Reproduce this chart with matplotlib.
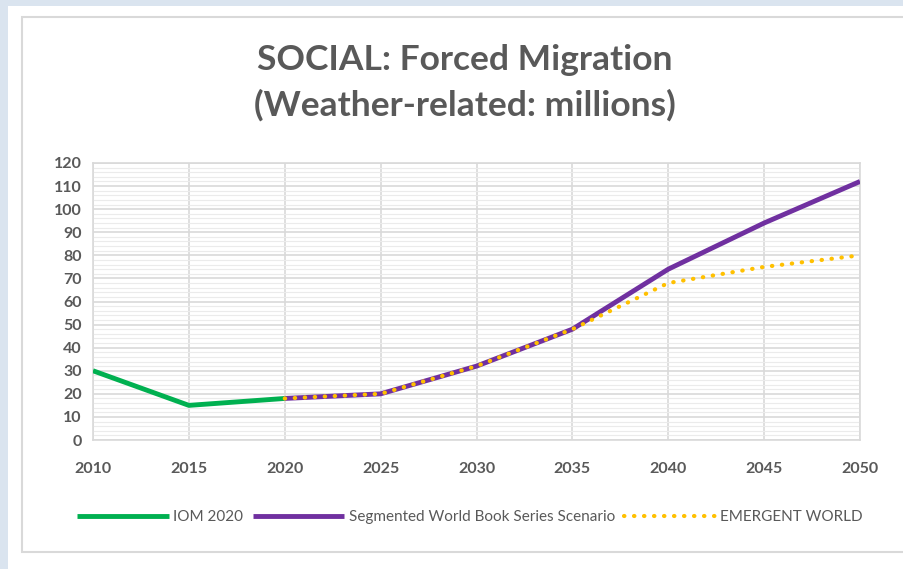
import matplotlib
matplotlib.use("Agg")
import matplotlib.pyplot as plt
from matplotlib.patches import Rectangle
from matplotlib.ticker import MultipleLocator

years = [2010, 2015, 2020, 2025, 2030, 2035, 2040, 2045, 2050]
iom_years = [2010, 2015, 2020]
iom_vals = [30, 15, 18]
scen_years = [2020, 2025, 2030, 2035, 2040, 2045, 2050]
segmented = [18, 20, 32, 48, 74, 94, 112]
emergent = [18, 20, 32, 48, 68, 75, 80]

plt.rcParams["font.family"] = ["Lato", "DejaVu Sans"]
grey = "#595959"

fig = plt.figure(figsize=(9.04, 5.69), dpi=100)
fig.patch.set_facecolor("white")

# light blue window edges and the chart border
fig.patches.append(Rectangle((0, 0.99), 1, 0.01, transform=fig.transFigure,
                             facecolor="#dae4ef", edgecolor="none", zorder=0))
fig.patches.append(Rectangle((0, 0), 0.009, 1, transform=fig.transFigure,
                             facecolor="#dae4ef", edgecolor="none", zorder=0))
fig.patches.append(Rectangle((22 / 904, 1 - 552 / 569), 1.0, (552 - 17) / 569,
                             transform=fig.transFigure, facecolor="white",
                             edgecolor="#d9d9d9", lw=1.5, zorder=0))

ax = fig.add_axes([93 / 904, 1 - 440 / 569, (860 - 93) / 904, (440 - 163) / 569])
ax.set_zorder(2)
ax.set_facecolor("white")

ax.plot(iom_years, iom_vals, color="#00b050", lw=3.5, solid_capstyle="butt",
        label="IOM 2020", zorder=3)
ax.plot(scen_years, segmented, color="#7030a0", lw=3.5, solid_capstyle="butt",
        label="Segmented World Book Series Scenario", zorder=4)
ax.plot(scen_years, emergent, color="#ffc000", lw=3, linestyle=(0, (0.1, 2.3)),
        dash_capstyle="round", label="EMERGENT WORLD", zorder=5)

ax.set_xlim(2010, 2050)
ax.set_ylim(0, 120)
ax.set_xticks(years)
ax.yaxis.set_major_locator(MultipleLocator(10))
ax.yaxis.set_minor_locator(MultipleLocator(2))
ax.grid(which="major", color="#d9d9d9", lw=1.2)
ax.grid(which="minor", axis="y", color="#ebebeb", lw=0.8)
ax.set_axisbelow(True)
for s in ax.spines.values():
    s.set_color("#d9d9d9")
    s.set_linewidth(1.2)

ax.tick_params(which="both", length=0)
ax.tick_params(axis="y", pad=8, labelsize=11.5, labelcolor=grey)
ax.tick_params(axis="x", pad=16, labelsize=11.5, labelcolor=grey)
for lab in ax.get_xticklabels() + ax.get_yticklabels():
    lab.set_fontweight("bold")

fig.text(0.514, 1 - 60 / 569, "SOCIAL: Forced Migration", ha="center", va="center",
         fontsize=25.5, fontweight="bold", color=grey)
fig.text(0.514, 1 - 105 / 569, "(Weather-related: millions)", ha="center", va="center",
         fontsize=25.5, fontweight="bold", color=grey)

fig.legend(loc="center", bbox_to_anchor=(0.52, 1 - 517 / 569), ncol=3, frameon=False,
           fontsize=11, labelcolor=grey, handlelength=6, handletextpad=0.3,
           columnspacing=0.6)

fig.savefig("out.png", dpi=100)
